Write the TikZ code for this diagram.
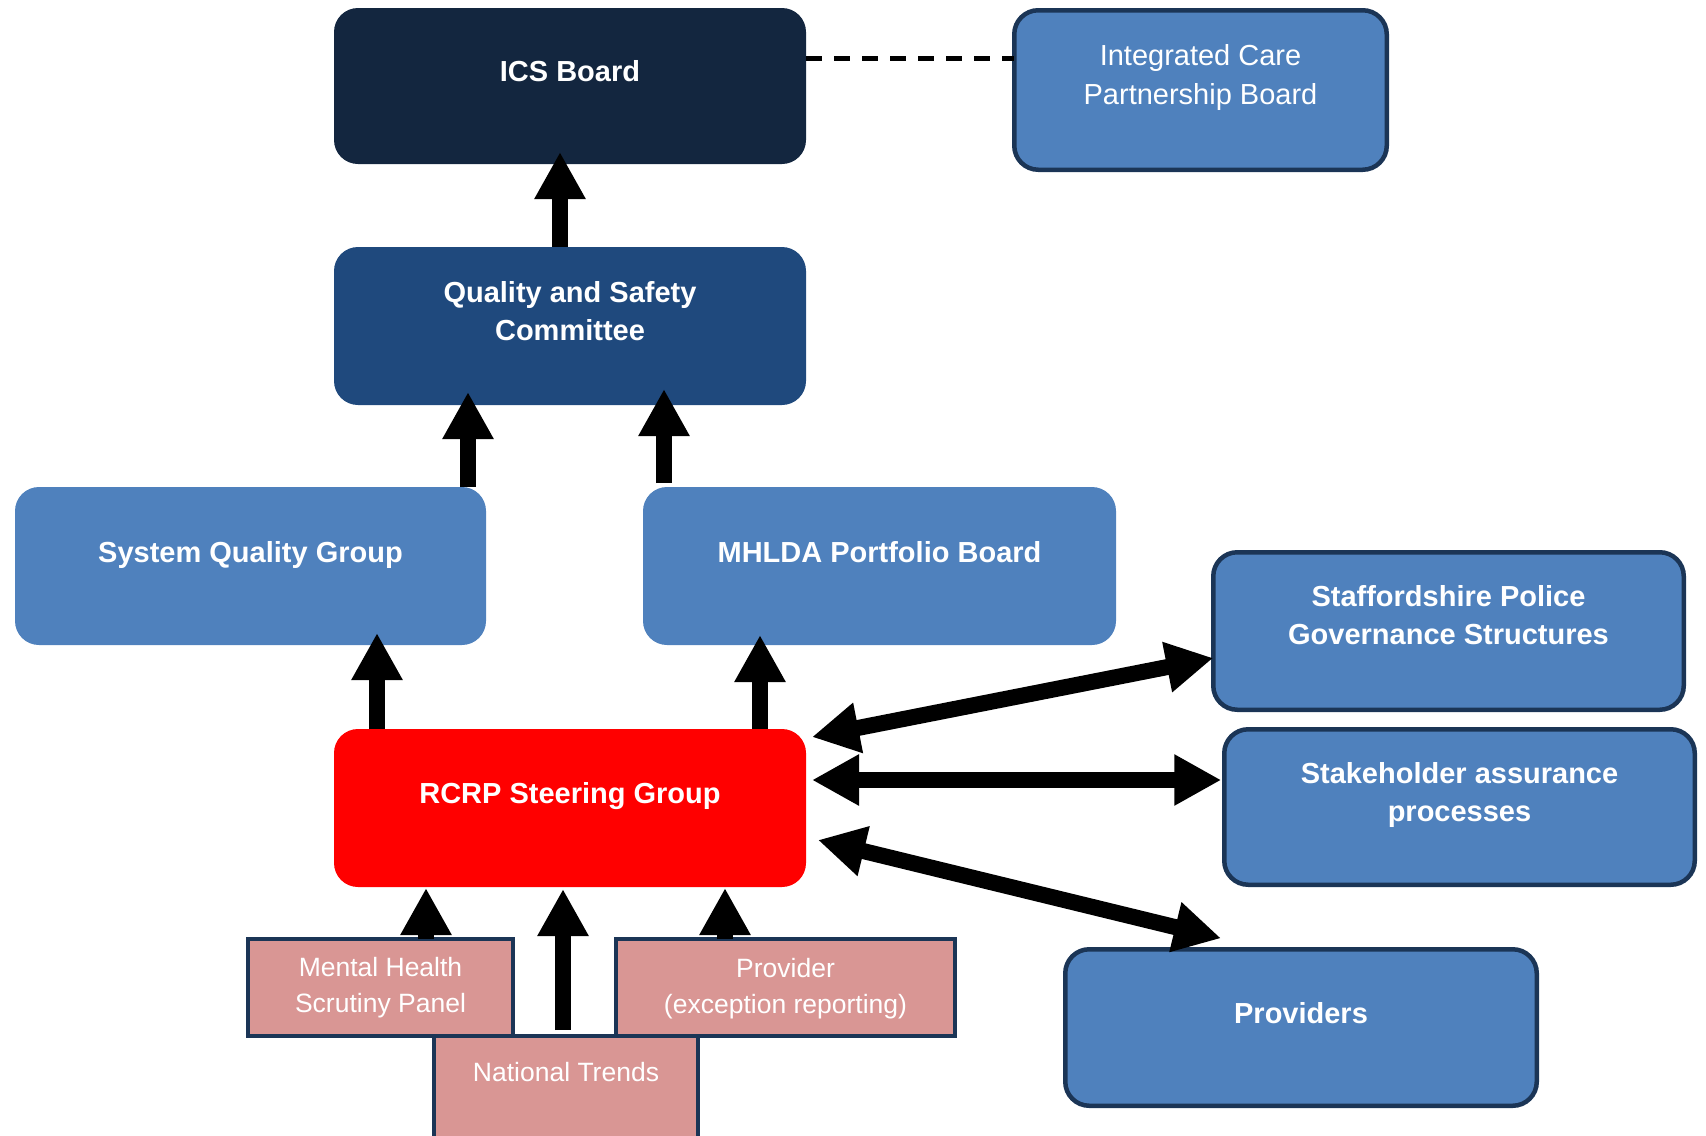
\documentclass[tikz,border=0pt]{standalone}
\usepackage{fontspec}
\setmainfont{Liberation Sans}
\usetikzlibrary{arrows.meta,calc}
\definecolor{icsnavy}{HTML}{13263F}
\definecolor{qsblue}{HTML}{1F497D}
\definecolor{midblue}{HTML}{4F81BD}
\definecolor{edgenavy}{HTML}{1B3556}
\definecolor{pinkbox}{HTML}{D99694}
\definecolor{rcrpred}{HTML}{FF0000}

\begin{document}
\begin{tikzpicture}[x=0.5pt,y=-0.5pt,
  >={Triangle[width=24pt,length=23.5pt]},
  box/.style={rectangle, rounded corners=12pt, inner sep=0pt, outer sep=0pt},
  plainbox/.style={box, fill=midblue},
  framedbox/.style={box, fill=midblue, draw=edgenavy, line width=2.25pt},
  feeder/.style={rectangle, inner sep=0pt, outer sep=0pt, fill=pinkbox, draw=edgenavy, line width=2pt},
  boldtxt/.style={text=white, font=\fontsize{14.5pt}{19.25pt}\selectfont\bfseries, anchor=base, inner sep=0pt},
  regtxt/.style={text=white, font=\fontsize{14.5pt}{19.5pt}\selectfont, anchor=base, inner sep=0pt},
  smalltxt/.style={text=white, font=\fontsize{13.25pt}{18pt}\selectfont, anchor=base, inner sep=0pt},
  flow/.style={line width=8pt, ->},
  twoway/.style={line width=8pt, <->},
  link/.style={line width=2.5pt, dash pattern=on 8pt off 6pt}
]
\useasboundingbox (0,0) rectangle (1706,1135);
\clip (0,0) rectangle (1706,1135);

% governance boxes
\node[box, fill=icsnavy, minimum width=236pt, minimum height=78pt] (ics) at (570,86) {};
\node[framedbox, minimum width=186.25pt, minimum height=79.75pt] (icp) at (1200.5,90) {};
\node[box, fill=qsblue, minimum width=236pt, minimum height=79pt] (qsc) at (570,326) {};
\node[plainbox, minimum width=235.5pt, minimum height=79pt] (sqg) at (250.5,566) {};
\node[plainbox, minimum width=236.5pt, minimum height=79pt] (mhlda) at (879.5,566) {};
\node[box, fill=rcrpred, minimum width=236pt, minimum height=79pt] (rcrp) at (570,808) {};
\node[framedbox, minimum width=235.25pt, minimum height=78.75pt] (staff) at (1448.5,631) {};
\node[framedbox, minimum width=235.25pt, minimum height=77.75pt] (stake) at (1459.5,807) {};
\node[framedbox, minimum width=235.75pt, minimum height=78.25pt] (provs) at (1301,1027.5) {};

% input boxes
\node[feeder, minimum width=132pt, minimum height=81pt] (nt) at (566,1117) {};
\node[feeder, minimum width=132.5pt, minimum height=48.5pt] (mhsp) at (380.5,987.5) {};
\node[feeder, minimum width=169.5pt, minimum height=48.5pt] (prov) at (785.5,987.5) {};

% labels
\node[boldtxt] (icsT) at (570,81) {ICS Board};
\node[regtxt] (icpT) at (1200.5,65) {\begin{tabular}[t]{@{}c@{}}Integrated Care\\Partnership Board\end{tabular}};
\node[boldtxt] (qscT) at (570,302) {\begin{tabular}[t]{@{}c@{}}Quality and Safety\\Committee\end{tabular}};
\node[boldtxt] (sqgT) at (250.5,562) {System Quality Group};
\node[boldtxt] (mhldaT) at (879.5,562) {MHLDA Portfolio Board};
\node[boldtxt] (rcrpT) at (570,803) {RCRP Steering Group};
\node[boldtxt] (staffT) at (1448.5,606) {\begin{tabular}[t]{@{}c@{}}Staffordshire Police\\Governance Structures\end{tabular}};
\node[boldtxt] (stakeT) at (1459.5,783) {\begin{tabular}[t]{@{}c@{}}Stakeholder assurance\\processes\end{tabular}};
\node[boldtxt] (provsT) at (1301,1023) {Providers};
\node[smalltxt] (mhspT) at (380.5,976) {\begin{tabular}[t]{@{}c@{}}Mental Health\\Scrutiny Panel\end{tabular}};
\node[smalltxt] (provT) at (785.5,977) {\begin{tabular}[t]{@{}c@{}}Provider\\(exception reporting)\end{tabular}};
\node[smalltxt] (ntT) at (566,1081) {National Trends};

% dashed partnership link
\coordinate (dashL) at ($(ics.east)+(0,-28)$);
\draw[link] (dashL) -- (dashL -| icp.west);

% reporting lines
\draw[flow] ($(qsc.north)+(-10,0)$) -- ($(ics.south)+(-10,-12)$);
\draw[flow] ($(sqg.north)+(217.5,0)$) -- ($(qsc.south)+(-102,-13)$);
\draw[flow] ($(mhlda.north)+(-215.5,-4)$) -- ($(qsc.south)+(94,-16)$);
\draw[flow] ($(rcrp.north)+(-193,0)$) -- ($(sqg.south)+(126.5,-12)$);
\draw[flow] ($(rcrp.north)+(190,0)$) -- ($(mhlda.south)+(-119.5,-10)$);
\draw[flow] ($(mhsp.north)+(45.5,0)$) -- ($(rcrp.south)+(-144,1)$);
\draw[flow] ($(nt.north)+(-3,-6)$) -- ($(rcrp.south)+(-7,2)$);
\draw[flow] ($(prov.north)+(-60.5,0)$) -- ($(rcrp.south)+(155,1)$);

% two-way assurance lines
\draw[twoway] ($(rcrp.east)+(6,-71)$) -- ($(staff.west)+(0,27)$);
\draw[twoway] ($(rcrp.east)+(6,-28)$) -- ($(stake.west)+(-3,-27)$);
\draw[twoway] ($(rcrp.east)+(12,32)$) -- ($(provs.north)+(-80,-11)$);
\end{tikzpicture}
\end{document}
